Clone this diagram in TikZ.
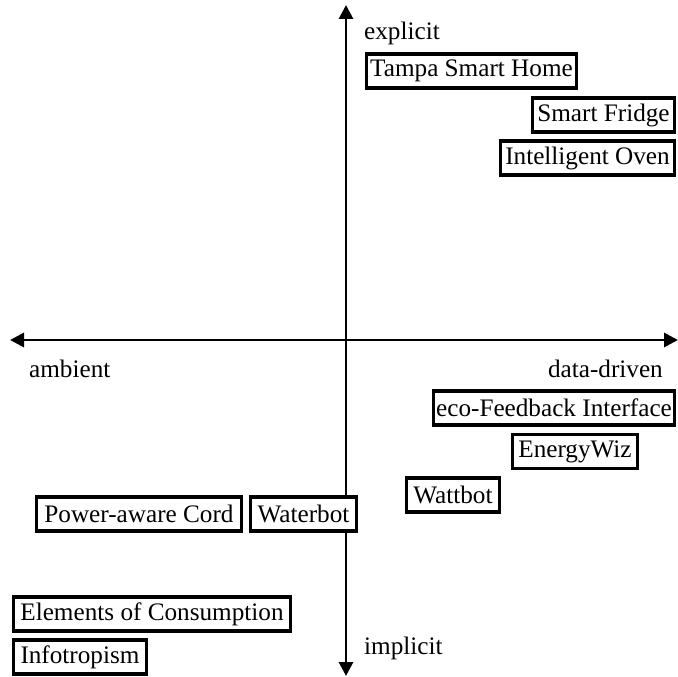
\documentclass[tikz,border=0pt]{standalone}
\usepackage{fontspec}
\setmainfont{Liberation Serif}
\usetikzlibrary{arrows.meta}
\begin{document}
\begin{tikzpicture}[x=1pt,y=-1pt,
  axis/.style={line width=2.9pt,
    {Triangle[length=14pt,width=14pt]}-{Triangle[length=14pt,width=14pt]}},
  item/.style={draw,fill=white,line width=3.4pt,minimum height=34pt,
    inner sep=0pt,font=\fontsize{25.2}{30}\selectfont},
  tag/.style={inner sep=0pt,font=\fontsize{25.2}{30}\selectfont}]
\useasboundingbox (0,0) rectangle (678,677);
% axes
\coordinate (top) at (346,5);
\coordinate (bottom) at (346,676);
\coordinate (left) at (10,340);
\coordinate (right) at (678,340);
\draw[axis] (bottom) -- (top);
\draw[axis] (left) -- (right);
% axis labels
\node[tag,anchor=base west] (explicit) at (364,40) {explicit};
\node[tag,anchor=base west] (implicit) at (364,654) {implicit};
\node[tag,anchor=base west] (ambient) at (29,377) {ambient};
\node[tag,anchor=base east] (datadriven) at (663,377) {data-driven};
% systems
\node[item,minimum width=210pt] (tampa) at (471.5,71) {Tampa Smart Home};
\node[item,minimum width=142pt] (fridge) at (603.5,115) {Smart Fridge};
\node[item,minimum width=174pt] (oven) at (587.5,158) {Intelligent Oven};
\node[item,minimum width=241pt] (eco) at (554,408) {eco-Feedback Interface};
\node[item,minimum width=125pt] (wiz) at (575,451.5) {EnergyWiz};
\node[item,minimum width=93pt] (wattbot) at (453,495) {Wattbot};
\node[item,minimum width=205pt] (cord) at (139,514) {Power-aware Cord};
\node[item,minimum width=106pt] (waterbot) at (303.5,514) {Waterbot};
\node[item,minimum width=277pt] (elements) at (152,614) {Elements of Consumption};
\node[item,minimum width=133pt] (info) at (80,657) {Infotropism};
\end{tikzpicture}
\end{document}
